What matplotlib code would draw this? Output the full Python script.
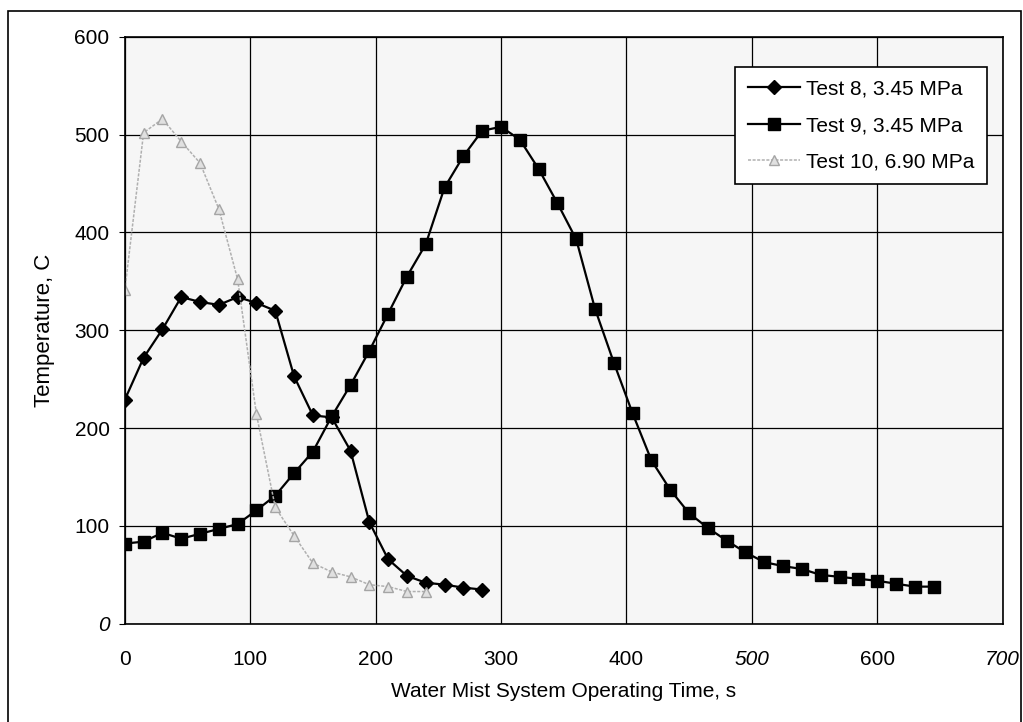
import matplotlib.pyplot as plt
from matplotlib.patches import Rectangle

plt.rcParams['font.family'] = ['Liberation Sans', 'DejaVu Sans']

# time axis, s (readings every 15 s)
t8 = [i * 15 for i in range(20)]
t9 = [i * 15 for i in range(44)]
t10 = [i * 15 for i in range(17)]

# temperatures, C
test8 = [229, 272, 301, 334, 329, 326, 334, 328, 320, 253,
         213, 211, 177, 104, 66, 49, 42, 40, 37, 35]
test9 = [82, 84, 93, 87, 92, 97, 102, 116, 131, 154,
         176, 212, 244, 279, 317, 355, 388, 446, 478, 504,
         508, 495, 465, 430, 393, 322, 267, 215, 167, 137,
         113, 98, 85, 73, 63, 59, 56, 50, 48, 46,
         44, 41, 38, 38]
test10 = [341, 502, 516, 493, 471, 424, 352, 214, 119, 90,
          62, 53, 48, 40, 38, 33, 33]

labels = ["Test 8, 3.45 MPa", "Test 9, 3.45 MPa", "Test 10, 6.90 MPa"]
xticks = [0, 100, 200, 300, 400, 500, 600, 700]
yticks = [0, 100, 200, 300, 400, 500, 600]

fig = plt.figure(figsize=(10.23, 7.22), dpi=100)
ax = fig.add_axes([0.122, 0.136, 0.858, 0.813])
ax.set_facecolor('#f6f6f6')

# border round the whole figure
fig.patches.append(Rectangle((0.008, -0.05), 0.990, 1.035, transform=fig.transFigure,
                             fill=False, edgecolor='black', linewidth=1.2))

ax.plot(t8, test8, color='black', linewidth=1.6, marker='D', markersize=7.5, label=labels[0])
ax.plot(t9, test9, color='black', linewidth=1.6, marker='s', markersize=8.5, label=labels[1])
ax.plot(t10, test10, color='#b0b0b0', linewidth=1.1, linestyle=(0, (2, 1)), marker='^',
        markersize=7, markerfacecolor='#e0e0e0', markeredgecolor='#a5a5a5', label=labels[2])

ax.set_xlim(0, 700)
ax.set_ylim(0, 600)
ax.set_xticks(xticks)
ax.set_yticks(yticks)
ax.grid(True, color='black', linewidth=0.9)
ax.set_axisbelow(True)
for s in ax.spines.values():
    s.set_linewidth(1.2)

ax.tick_params(axis='x', length=0, pad=19, labelsize=15)
ax.tick_params(axis='y', length=4, pad=7, labelsize=15)
for lab in ax.get_xticklabels():
    if lab.get_text() in ('500', '700'):
        lab.set_style('italic')
for lab in ax.get_yticklabels():
    if lab.get_text() == '0':
        lab.set_style('italic')

ax.set_xlabel("Water Mist System Operating Time, s", fontsize=15, labelpad=9)
ax.set_ylabel("Temperature, C", fontsize=16, labelpad=14)

leg = ax.legend(loc='upper right', bbox_to_anchor=(0.987, 0.956), fontsize=15,
                frameon=True, fancybox=False, edgecolor='black', framealpha=1,
                handlelength=2.5, handletextpad=0.3, borderpad=0.6, labelspacing=0.85,
                borderaxespad=0.2)
leg.get_frame().set_linewidth(1.2)

fig.savefig('out.png', dpi=100)
